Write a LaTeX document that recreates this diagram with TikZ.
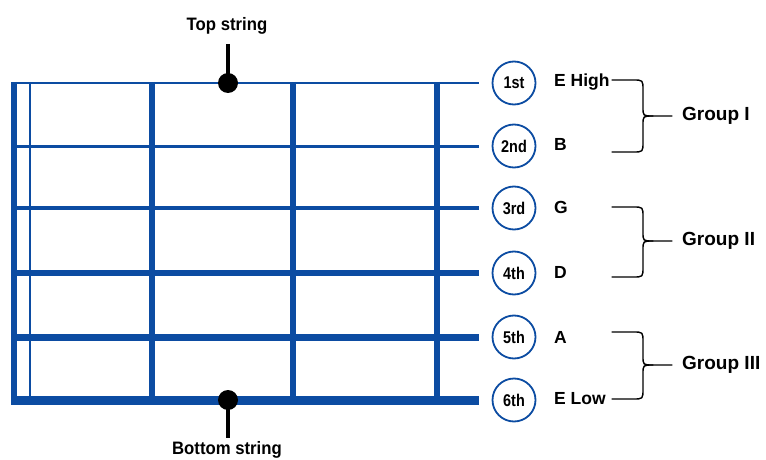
\documentclass[tikz,border=0pt]{standalone}
\usepackage{fontspec}
\setmainfont{Liberation Sans}
\newfontfamily\narrowsans[FakeStretch=0.85]{Liberation Sans}
\newfontfamily\semisans[FakeStretch=0.93]{Liberation Sans}
\definecolor{fretblue}{RGB}{12,76,162}
\begin{document}
\begin{tikzpicture}[x=1pt,y=-1pt,
  wire/.style={draw=fretblue,line cap=butt},
  fretbar/.style={draw=fretblue,line width=6pt},
  ring/.style={circle,draw=fretblue,line width=1.8pt,fill=white,minimum size=43pt,inner sep=0pt,
    font=\narrowsans\bfseries\fontsize{17}{18}\selectfont},
  note/.style={anchor=west,inner sep=0pt,font=\bfseries\fontsize{17.5}{19}\selectfont},
  grp/.style={anchor=west,inner sep=0pt,font=\bfseries\fontsize{19}{20}\selectfont},
  brace/.style={draw=black,line width=1.4pt,line cap=round,line join=round},
  pin/.style={draw=black,line width=4pt},
  dot/.style={circle,fill=black,minimum size=20pt,inner sep=0pt},
  caption/.style={inner sep=0pt,font=\semisans\bfseries\fontsize{18}{19}\selectfont}]
\useasboundingbox (0,0) rectangle (766,460);

% string end points (left side at the nut, right side before the rings)
\foreach \i/\y in {1/83,2/146,3/208,4/273,5/337,6/400.5}{
  \coordinate (a\i) at (11,\y);
  \coordinate (b\i) at (479,\y);
}
% strings, thicker toward the bass side
\draw[wire,line width=2pt]   (a1) -- (b1);
\draw[wire,line width=3pt]   (a2) -- (b2);
\draw[wire,line width=4.5pt] (a3) -- (b3);
\draw[wire,line width=5.5pt] (a4) -- (b4);
\draw[wire,line width=7pt]   (a5) -- (b5);
\draw[wire,line width=9pt]   (a6) -- (b6);

% nut, thin guide line and frets
\draw[fretbar,line width=6.5pt] (14,82) -- (14,405);
\draw[draw=fretblue,line width=2pt] (30,82) -- (30,405);
\foreach \x in {152,293,437}
  \draw[fretbar] (\x,82) -- (\x,405);

% string numbers
\node[ring] (s1) at (514,83)  {1st};
\node[ring] (s2) at (514,146) {2nd};
\node[ring] (s3) at (514,208) {3rd};
\node[ring] (s4) at (514,273) {4th};
\node[ring] (s5) at (514,337) {5th};
\node[ring] (s6) at (514,400) {6th};

% note names
\node[note] (n1) at (554,82)  {E High};
\node[note] (n2) at (554,144) {B};
\node[note] (n3) at (554,207) {G};
\node[note] (n4) at (554,272) {D};
\node[note] (n5) at (554,337) {A};
\node[note] (n6) at (554,399) {E Low};

% group braces
\foreach \t/\b/\m/\name/\txt in {80/152/116/g1/Group I,207/277/241/g2/Group II,332/399/365/g3/Group III}{
  \coordinate (\name top) at (612,\t);
  \coordinate (\name bot) at (612,\b);
  \coordinate (\name tip) at (672,\m);
  \draw[brace] (\name top) -- (633,\t) .. controls (643,\t) .. (643,\t+10) -- (643,\m-9)
     .. controls (643,\m) .. (653,\m) -- (\name tip);
  \draw[brace] (653,\m) .. controls (643,\m) .. (643,\m+9) -- (643,\b-10)
     .. controls (643,\b) .. (633,\b) -- (\name bot);
  \node[grp] (\name) at (682,\m) {\txt};
}

% top / bottom string markers
\node[caption] (toplbl) at (227,26) {Top string};
\node[dot] (topdot) at (228,83) {};
\coordinate (toppin) at (228,44);
\draw[pin] (toppin) -- (topdot.center);

\node[dot] (botdot) at (228,400) {};
\coordinate (botpin) at (228,438);
\draw[pin] (botdot.center) -- (botpin);
\node[caption,anchor=south] (botlbl) at (227,459) {Bottom string};
\end{tikzpicture}
\end{document}
